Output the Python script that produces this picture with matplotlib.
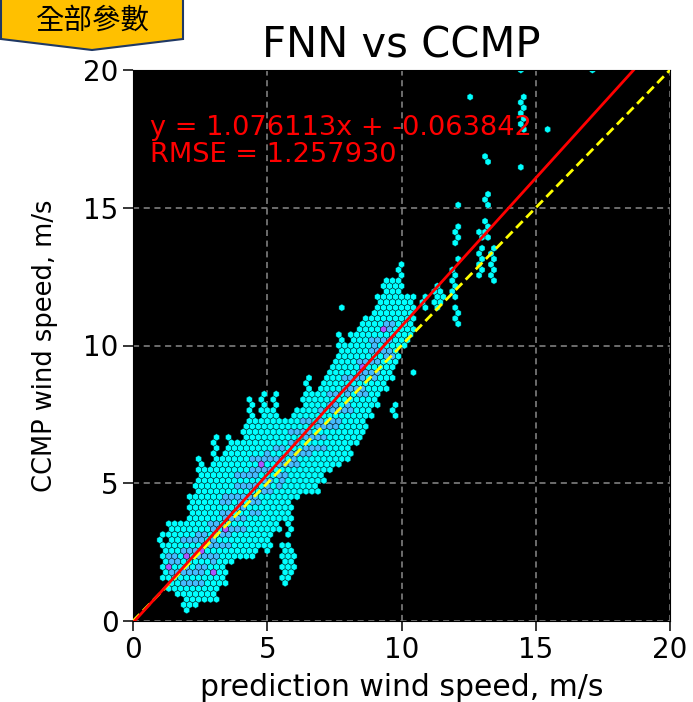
import numpy as np
import matplotlib
matplotlib.use("Agg")
import matplotlib.pyplot as plt
from matplotlib.patches import Polygon

# ---------------- data ----------------
# main band of the hexbin cloud: column centre, lower and upper extent (m/s)
band_x  = [1.25, 1.5, 1.75, 2.0, 2.25, 2.5, 2.75, 3.0, 3.25, 3.5, 3.75, 4.0, 4.25, 4.5,
           4.75, 5.0, 5.25, 5.5, 5.75, 6.0, 6.25, 6.5, 6.75, 7.0, 7.25, 7.5, 7.75, 8.0,
           8.25, 8.5, 8.75, 9.0, 9.25, 9.5, 9.75, 10.0, 10.25]
band_lo = [1.6, 1.2, 1.0, 0.75, 0.6, 0.7, 0.8, 0.8, 1.3, 2.2, 2.4, 2.4, 2.3, 2.6,
           2.8, 2.6, 3.4, 3.7, 4.2, 4.5, 4.7, 4.7, 4.8, 5.2, 5.5, 5.7, 5.8, 6.0,
           6.4, 6.9, 7.4, 7.9, 8.4, 8.8, 9.5, 10.0, 10.3]
band_hi = [2.9, 3.5, 3.6, 3.7, 4.6, 5.2, 5.5, 5.6, 5.9, 6.2, 6.5, 6.5, 7.0, 7.3,
           7.4, 7.6, 7.5, 7.2, 7.3, 7.4, 7.8, 8.3, 8.3, 8.5, 8.9, 9.2, 9.5, 9.9,
           10.5, 10.7, 11.0, 11.3, 11.8, 12.3, 12.4, 11.8, 11.8]

# denser core of the cloud
core_x  = [1.5, 2.0, 2.5, 3.0, 3.5, 4.0, 4.5, 5.0, 5.5, 6.0, 6.5, 7.0, 7.5, 8.0, 8.5, 9.0, 9.5]
core_lo = [1.8, 1.4, 1.4, 1.8, 2.8, 3.4, 4.0, 4.6, 5.0, 5.6, 6.0, 6.4, 7.0, 7.6, 8.2, 8.8, 9.6]
core_hi = [2.6, 3.0, 3.4, 3.8, 4.6, 5.2, 5.8, 6.2, 6.4, 6.8, 7.3, 7.8, 8.4, 9.0, 9.6, 10.4, 10.8]

# thin streaks and isolated cells
streak_x  = [1.1, 1.95, 3.05, 2.45, 3.05, 3.6, 4.36, 4.84, 5.3, 5.6, 5.75, 5.9, 5.85,
             6.48, 7.71, 7.71, 9.45, 9.95, 9.75, 10.43, 10.35, 10.8, 11.25, 11.5,
             12.0, 12.07, 12.07, 12.07, 12.1, 13.0, 13.2, 13.4, 13.2, 13.2, 12.6,
             14.5, 14.5, 14.5, 15.4, 17.2]
streak_lo = [2.95, 0.3, 0.75, 5.6, 6.0, 6.2, 7.4, 7.4, 7.4, 1.6, 1.4, 1.8, 3.2,
             8.3, 9.6, 11.3, 11.8, 11.8, 7.5, 9.1, 10.7, 11.3, 11.3, 11.6,
             11.8, 10.85, 13.1, 13.7, 15.2, 12.6, 13.95, 12.45, 15.2, 16.75, 18.95,
             16.5, 17.9, 19.95, 17.8, 19.95]
streak_hi = [3.2, 0.6, 0.85, 6.0, 6.7, 6.7, 8.0, 8.3, 8.3, 2.8, 2.8, 2.6, 5.0,
             9.0, 10.45, 11.3, 12.5, 13.0, 7.95, 9.1, 11.8, 11.8, 12.3, 12.0,
             12.75, 11.3, 13.1, 14.3, 15.2, 14.1, 14.65, 13.5, 15.6, 17.0, 18.95,
             16.5, 19.2, 19.95, 17.8, 19.95]

# most populated cells
peak_x = [1.4, 2.1, 2.9, 2.6, 3.5, 4.7, 8.6, 9.3]
peak_y = [2.0, 2.3, 1.75, 2.6, 3.4, 5.7, 9.3, 10.6]

slope, intercept, rmse = 1.076113, -0.063842, 1.257930
ticks = [0, 5, 10, 15, 20]

# ---------------- build sample list ----------------
xs, ys, ws = [], [], []
def add_seg(xc, lo, hi, w, offsets, step):
    for yv in np.arange(lo, hi + 1e-9, step):
        for o in offsets:
            xs.append(xc + o); ys.append(yv); ws.append(w)

for xc, lo, hi in zip(band_x, band_lo, band_hi):
    add_seg(xc, lo, hi, 1, [-0.1, 0.0, 0.1], 0.15)
for xc, lo, hi in zip(streak_x, streak_lo, streak_hi):
    add_seg(xc, lo, hi, 1, [0.0], 0.15)
for xc, lo, hi in zip(core_x, core_lo, core_hi):
    add_seg(xc, lo, hi, 2.6, [-0.11, 0.11], 0.3)
for px, py in zip(peak_x, peak_y):
    xs.append(px); ys.append(py); ws.append(5)

# ---------------- figure ----------------
W, H = 693, 702
fig = plt.figure(figsize=(W / 100, H / 100), dpi=100)
ax = fig.add_axes([133 / W, 81 / H, 537 / W, 551 / H])
ax.set_facecolor("black")

ax.hexbin(xs, ys, C=ws, reduce_C_function=np.max, gridsize=90,
          extent=(0, 20, 0, 20), cmap="cool", vmin=1, vmax=7,
          edgecolors=(0, 0, 0, 0.55), linewidths=0.5, zorder=2)

xl = np.array([0, 20])
ax.plot(xl, slope * xl + intercept, color="red", lw=2.0, zorder=4)
ax.plot(xl, xl, color="yellow", lw=2.0, ls=(0, (3.4, 1.8)), zorder=3)

ax.text(0.0317, 0.882, f"y = {slope:.6f}x + {intercept:.6f}",
        transform=ax.transAxes, color="red", fontsize=19.6, va="baseline", ha="left", zorder=5)
ax.text(0.0317, 0.833, f"RMSE = {rmse:.6f}",
        transform=ax.transAxes, color="red", fontsize=19.6, va="baseline", ha="left", zorder=5)

ax.set_xlim(0, 20)
ax.set_ylim(0, 20)
ax.set_xticks(ticks)
ax.set_yticks(ticks)
ax.set_axisbelow(True)
ax.grid(True, color="#8a8a8a", ls=(0, (4, 3)), lw=1.1)
ax.tick_params(labelsize=20, length=7, width=1.1)
ax.set_xlabel("prediction wind speed, m/s", fontsize=21.5, va="top")
ax.xaxis.set_label_coords(0.5, -0.094)
ax.set_ylabel("CCMP wind speed, m/s", fontsize=18.5)
ax.yaxis.set_label_coords(-0.14, 0.5)
ax.set_title("FNN vs CCMP", fontsize=30, pad=9)

# yellow banner with label
pts = [(1, -3), (183, -3), (183, 39), (92, 50), (1, 39)]
poly = Polygon([(x / W, 1 - y / H) for x, y in pts], closed=True,
               transform=fig.transFigure, facecolor="#FFC000",
               edgecolor="#1F3864", lw=1.5, zorder=10)
fig.add_artist(poly)
fig.text(93 / W, 1 - 21 / H, "全部參數", ha="center", va="center", fontsize=20.5,
         family=["Noto Sans CJK TC", "DejaVu Sans"], color="black", zorder=11)

fig.savefig("out.png", dpi=100)
